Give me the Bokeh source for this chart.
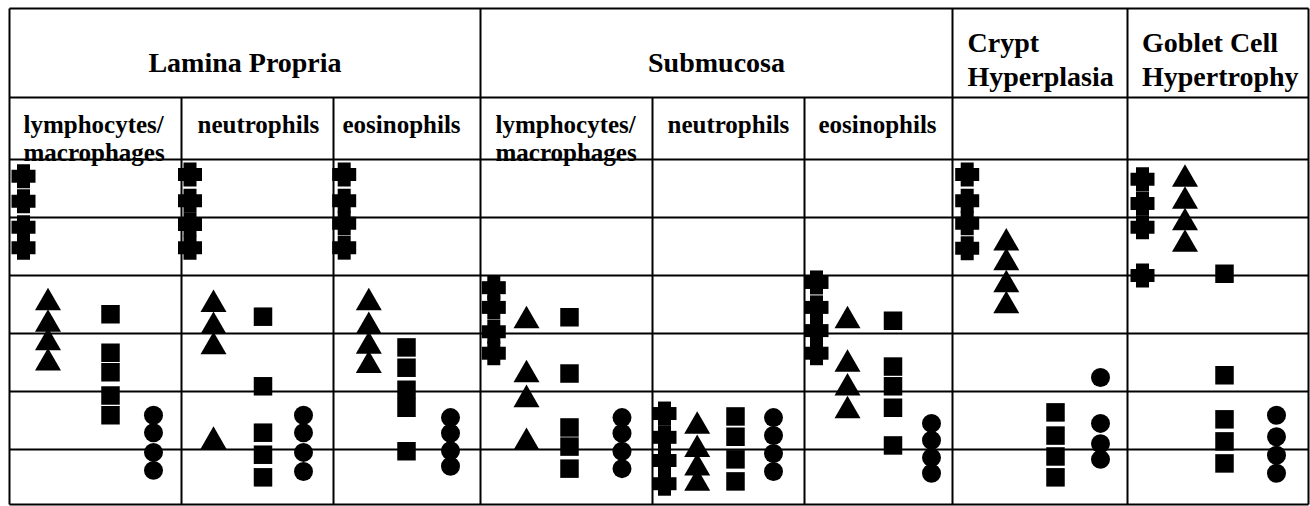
from bokeh.plotting import figure
from bokeh.models import Range1d, ColumnDataSource
from bokeh.core.properties import value
from bokeh.embed import file_html
from bokeh.resources import INLINE

# ------------------------------------------------------------------ data
section_lines = [["Lamina Propria"], ["Submucosa"], ["Crypt", "Hyperplasia"], ["Goblet Cell", "Hypertrophy"]]
cell_type_lines = [["lymphocytes/", "macrophages"], ["neutrophils"], ["eosinophils"]]
columns = ["LP lymphocytes/macrophages", "LP neutrophils", "LP eosinophils",
           "SM lymphocytes/macrophages", "SM neutrophils", "SM eosinophils",
           "Crypt hyperplasia", "Goblet cell hypertrophy"]
score_lines = [0, 1, 2, 3, 4, 5]

cross_scores = [
    [4.71, 4.28, 3.83, 3.48],
    [4.74, 4.29, 3.88, 3.48],
    [4.74, 4.29, 3.90, 3.48],
    [2.79, 2.45, 2.03, 1.66],
    [0.62, 0.21, -0.19, -0.59],
    [2.88, 2.45, 2.05, 1.66],
    [4.74, 4.29, 3.90, 3.47],
    [4.66, 4.24, 3.83, 3.00],
]
triangle_scores = [
    [2.53, 2.16, 1.84, 1.49],
    [2.50, 2.12, 1.77, 0.14],
    [2.53, 2.12, 1.78, 1.45],
    [2.22, 1.29, 0.86, 0.12],
    [0.40, 0.00, -0.32, -0.58],
    [2.22, 1.47, 1.06, 0.67],
    [3.56, 3.22, 2.84, 2.48],
    [4.66, 4.28, 3.91, 3.54],
]
square_scores = [
    [2.33, 1.67, 1.33, 0.93, 0.59],
    [2.29, 1.09, 0.29, -0.09, -0.48],
    [1.76, 1.41, 1.03, 0.72, -0.03],
    [2.28, 1.31, 0.38, 0.05, -0.33],
    [0.57, 0.22, -0.17, -0.55],
    [2.22, 1.43, 1.09, 0.72, 0.07],
    [0.64, 0.24, -0.12, -0.48],
    [3.03, 1.28, 0.52, 0.14, -0.24],
]
circle_scores = [
    [0.59, 0.29, -0.05, -0.36],
    [0.59, 0.29, -0.05, -0.38],
    [0.55, 0.28, -0.02, -0.29],
    [0.55, 0.28, -0.03, -0.33],
    [0.55, 0.24, -0.07, -0.38],
    [0.45, 0.16, -0.14, -0.41],
    [1.24, 0.45, 0.10, -0.17],
    [0.59, 0.22, -0.10, -0.41],
]

# ------------------------------------------------------------------ layout
W, H = 1310, 506
ORIGIN = 0                  # page offset of the figure
PX_PER_SCORE = 58.0
ZERO_PY = 449.0             # page y of score 0


def sy(py):
    return (ZERO_PY - py) / PX_PER_SCORE


col_edges = [9, 181, 333, 480, 652, 804, 952, 1127, 1308]
section_edges = [9, 480, 952, 1127, 1308]
sub_edges = [181, 333, 652, 804]
# horizontal offset (px from column's left edge) of cross, triangle, square, circle
marker_offsets = [
    [14, 38.5, 101, 144],
    [8.5, 32, 81.5, 122],
    [10.7, 35.3, 73, 117],
    [13.3, 46, 89, 141.5],
    [12, 44.7, 83, 121],
    [12, 43, 88.5, 127],
    [14.7, 53.8, 103, 148],
    [15, 57.5, 97, 149],
]
TOP_PY, HEAD_PY, BOT_PY = 8, 97, 504

p = figure(width=W, height=H, output_backend="svg", toolbar_location=None,
           x_range=Range1d(ORIGIN, ORIGIN + W),
           y_range=Range1d(sy(ORIGIN + H), sy(ORIGIN)),
           x_axis_location=None, y_axis_location=None,
           min_border=0, min_border_left=0, min_border_right=0,
           min_border_top=0, min_border_bottom=0)
p.grid.visible = False
p.outline_line_color = None
p.background_fill_color = "white"
p.border_fill_color = "white"

# ---- table lines
x0, y0, x1, y1 = [], [], [], []
for s in score_lines + [sy(HEAD_PY), sy(TOP_PY), sy(BOT_PY)]:
    x0.append(col_edges[0]); x1.append(col_edges[-1]); y0.append(s); y1.append(s)
for x in section_edges:
    x0.append(x); x1.append(x); y0.append(sy(TOP_PY)); y1.append(sy(BOT_PY))
for x in sub_edges:
    x0.append(x); x1.append(x); y0.append(sy(HEAD_PY)); y1.append(sy(BOT_PY))
p.segment(x0=x0, y0=y0, x1=x1, y1=y1, line_color="black", line_width=2)

# ---- markers
def pts(scores, k):
    xs, ys = [], []
    for c, vals in enumerate(scores):
        for v in vals:
            xs.append(col_edges[c] + marker_offsets[c][k])
            ys.append(v)
    return ColumnDataSource(dict(x=xs, y=ys))

src_cross = pts(cross_scores, 0)
p.rect("x", "y", width=24, height=13, width_units="screen", height_units="screen",
       source=src_cross, fill_color="black", line_color=None)
p.rect("x", "y", width=13, height=24, width_units="screen", height_units="screen",
       source=src_cross, fill_color="black", line_color=None)
p.scatter("x", "y", source=pts(triangle_scores, 1), marker="triangle", size=26,
          fill_color="black", line_color=None)
p.scatter("x", "y", source=pts(square_scores, 2), marker="square", size=18.5,
          fill_color="black", line_color=None)
p.scatter("x", "y", source=pts(circle_scores, 3), marker="circle", size=19,
          fill_color="black", line_color=None)

# ---- header texts
FONT = value("Liberation Serif")
sec_x = [(section_edges[0] + section_edges[1]) / 2, (section_edges[1] + section_edges[2]) / 2,
         967, 1141.5]
sec_align = ["center", "center", "left", "left"]
for i, lines in enumerate(section_lines):
    if len(lines) == 1:
        ys = [sy(62)]
    else:
        ys = [sy(42), sy(76)]
    for t, yy in zip(lines, ys):
        p.text(x=[sec_x[i]], y=[yy], text=[t], text_font=FONT, text_font_style="bold",
               text_font_size="28px", text_align=sec_align[i], text_baseline="alphabetic",
               text_color="black")

sub_x = [23, 197, 342, 495, 667, 818]
for c in range(6):
    lines = cell_type_lines[c % 3]
    for t, yy in zip(lines, [sy(124), sy(152)]):
        p.text(x=[sub_x[c]], y=[yy], text=[t], text_font=FONT, text_font_style="bold",
               text_font_size="25px", text_align="left", text_baseline="alphabetic",
               text_color="black")

open("out.html", "w").write(file_html(p, INLINE))
